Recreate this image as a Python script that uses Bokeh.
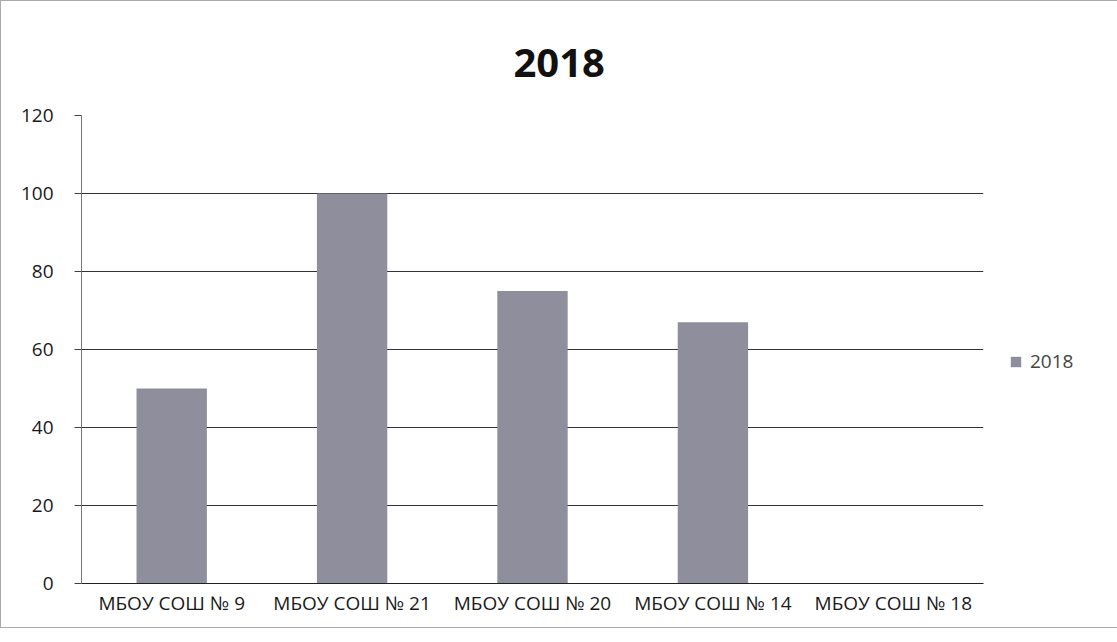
from bokeh.plotting import figure
from bokeh.models import ColumnDataSource, Legend, LegendItem, FixedTicker, Range1d
from bokeh.embed import file_html
from bokeh.resources import INLINE

categories = ["МБОУ СОШ № 9", "МБОУ СОШ № 21", "МБОУ СОШ № 20", "МБОУ СОШ № 14", "МБОУ СОШ № 18"]
values_2018 = [50, 100, 75, 67, 0]
series_name = "2018"
y_ticks = [0, 20, 40, 60, 80, 100, 120]
title_text = "2018"

src = ColumnDataSource(dict(cat=categories, val=values_2018))

p = figure(x_range=categories, y_range=Range1d(0, 120),
           frame_width=902, frame_height=468,
           output_backend="svg", toolbar_location=None, title=title_text,
           min_border_left=80, min_border_right=0, min_border_bottom=44, min_border_top=114)

p.title.text_font = "Open Sans"
p.title.text_font_style = "bold"
p.title.text_font_size = "40px"
p.title.align = "left"
p.title.offset = 432
p.title.standoff = 77
p.title.text_color = "#111111"

r = p.vbar(x="cat", top="val", width=0.39, source=src, fill_color="#8e8e9c", line_color=None)

p.outline_line_color = None
p.xgrid.grid_line_color = None
p.ygrid.grid_line_color = "#333333"
p.ygrid.grid_line_width = 1
p.yaxis.ticker = FixedTicker(ticks=y_ticks)
p.yaxis.minor_tick_line_color = None
p.yaxis.major_tick_out = 7
p.yaxis.major_tick_in = 0
p.yaxis.axis_line_color = "#777777"
p.yaxis.major_tick_line_color = "#444444"
p.xaxis.major_tick_line_color = None
p.xaxis.axis_line_color = "#222222"
for ax in (p.xaxis[0], p.yaxis[0]):
    ax.major_label_text_font = "Open Sans"
    ax.major_label_text_font_size = "19px"
    ax.major_label_text_color = "#1a1a1a"
p.xaxis.major_label_standoff = 0
p.yaxis.major_label_standoff = 21

legend = Legend(items=[LegendItem(label=series_name, renderers=[r])], location=(26, 209),
                border_line_color=None, background_fill_alpha=0,
                label_text_font="Open Sans", label_text_font_size="19px",
                glyph_width=13, glyph_height=13, label_standoff=8, margin=0, padding=0)
p.add_layout(legend, "right")

p.styles = {"border": "1px solid #aaaaaa"}

open("out.html", "w").write(file_html(p, INLINE))
